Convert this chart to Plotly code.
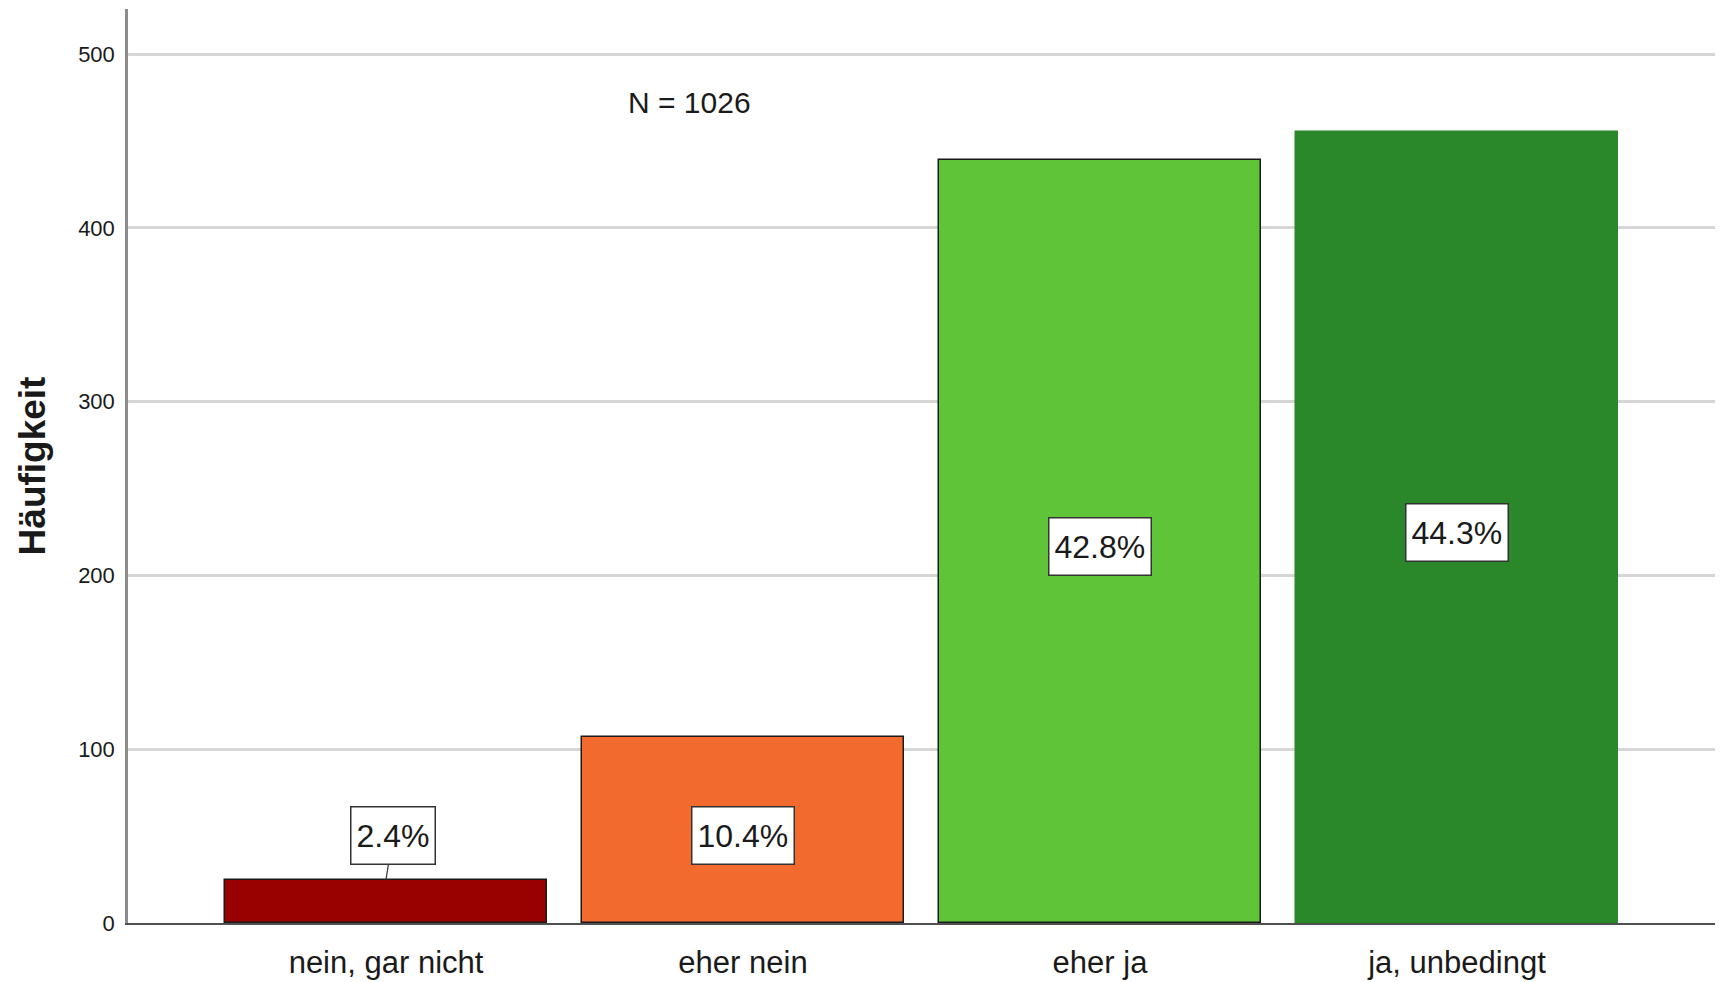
import plotly.graph_objects as go

# Antwortkategorien und Häufigkeiten (N = 1026)
categories = ["nein, gar nicht", "eher nein", "eher ja", "ja, unbedingt"]
counts = [25, 107, 439, 455]
pct_labels = ["2.4%", "10.4%", "42.8%", "44.3%"]
bar_colors = ["#990000", "#F26A2D", "#5FC437", "#2A872A"]
outline_colors = ["#1a1a1a", "#1a1a1a", "#1a1a1a", "#2A872A"]
total_n = 1026

label_font = "Liberation Sans, Arial, sans-serif"

fig = go.Figure()
fig.add_trace(go.Bar(
    x=list(range(len(categories))),
    y=counts,
    width=0.9,
    marker=dict(color=bar_colors, line=dict(color=outline_colors, width=1.5)),
    hoverinfo="skip",
))

# Prozent-Beschriftungen in Kästchen
for i, (c, lab) in enumerate(zip(counts, pct_labels)):
    box = dict(
        text=lab, xref="x", yref="y", height=46,
        font=dict(family=label_font, size=32, color="#1a1a1a"),
        bgcolor="white", bordercolor="#333333", borderwidth=1.5, borderpad=5,
    )
    if c < 60:
        # zu niedriger Balken: Kästchen darüber mit Verbindungslinie
        fig.add_annotation(x=i, y=c, showarrow=True, arrowhead=0,
                           arrowwidth=1.2, arrowcolor="#333333",
                           ax=7, ay=-44, **box)
    else:
        fig.add_annotation(x=i, y=c / 2, showarrow=False, yshift=-5, **box)

fig.add_annotation(
    x=0.851, y=472, xref="x", yref="y", showarrow=False,
    text=f"N = {total_n}",
    font=dict(family=label_font, size=30, color="#1a1a1a"),
)

fig.update_layout(
    width=1724, height=982,
    margin=dict(l=128, r=9, t=9, b=59, autoexpand=False),
    paper_bgcolor="white", plot_bgcolor="white",
    showlegend=False,
    bargap=0,
)
fig.update_xaxes(
    range=[-0.7227, 3.7227], automargin=False,
    tickmode="array", tickvals=list(range(len(categories))), ticktext=categories,
    tickfont=dict(family=label_font, size=31, color="#1a1a1a"),
    showline=True, linecolor="#505050", linewidth=2,
    showgrid=False, zeroline=False, ticks="", ticklabelstandoff=11,
)
fig.update_yaxes(
    range=[0, 526], automargin=False,
    tickmode="array", tickvals=[0, 100, 200, 300, 400, 500],
    tickfont=dict(family=label_font, size=22, color="#1a1a1a"),
    showline=True, linecolor="#8c8c8c", linewidth=2.5,
    showgrid=True, gridcolor="#d6d6d6", gridwidth=2.5,
    zeroline=False, ticks="", ticklabelstandoff=6,
    title=dict(text="<b>Häufigkeit</b>", standoff=22,
               font=dict(family=label_font, size=37, color="#1a1a1a")),
)

fig.write_html("out.html")
